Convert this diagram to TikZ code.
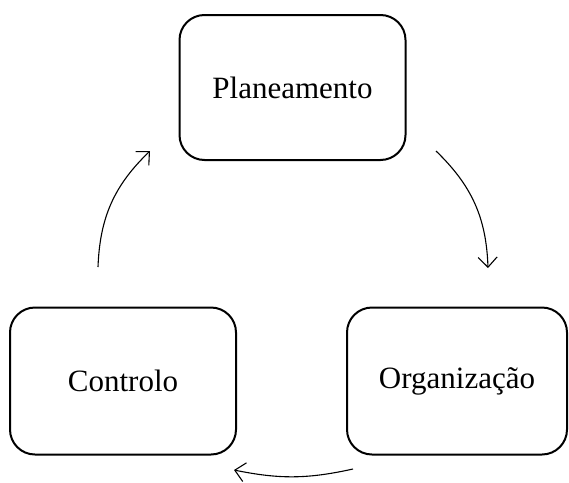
\documentclass[tikz,border=0pt]{standalone}
\usepackage{fontspec}
\setmainfont{Liberation Serif}
\usetikzlibrary{arrows.meta}
\begin{document}
\begin{tikzpicture}[x=1pt,y=-1pt,
  box/.style={draw,line width=2pt,rounded corners=25pt,inner sep=0pt,
    font=\fontsize{31}{37}\selectfont},
  cyc/.style={line width=1.1pt,-{Straight Barb[length=10pt,width=19pt,line width=1.1pt]}}]
\useasboundingbox (0,0) rectangle (569,482);
\node[box,minimum width=226pt,minimum height=145pt] (plan) at (292.5,87.5) {Planeamento};
\node[box,minimum width=226pt,minimum height=147pt] (ctrl) at (123,381) {Controlo};
\node[box,minimum width=220pt,minimum height=147pt] (org) at (457,381) {Organização};
\coordinate (a1) at (436,151);
\coordinate (a2) at (488,268);
\coordinate (b1) at (353,469);
\coordinate (b2) at (234,470);
\coordinate (c1) at (98,267);
\coordinate (c2) at (150,151);
\draw[cyc] (a1) to[bend left=22] (a2);
\draw[cyc] (b1) to[bend left=12] (b2);
\draw[cyc] (c1) to[bend left=22] (c2);
\end{tikzpicture}
\end{document}
